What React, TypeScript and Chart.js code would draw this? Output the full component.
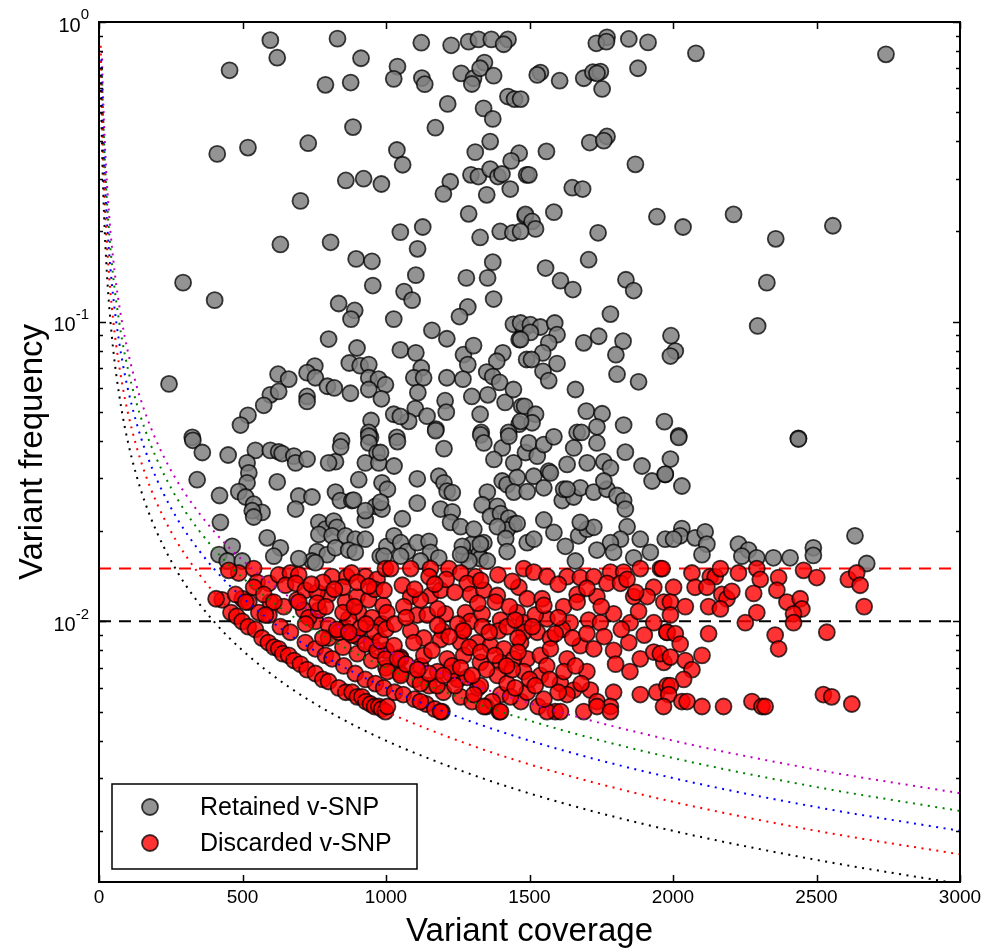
import { useEffect, useRef } from "react";
import { Chart, registerables } from "chart.js";

Chart.register(...registerables);

// ---------- axes / ticks ----------
const xTickValues = [0, 500, 1000, 1500, 2000, 2500, 3000];
const yMajorTicks = [1, 0.1, 0.01];
const yMajorExponents = ["0", "-1", "-2"];
const yMinorTicks = [
  0.002, 0.003, 0.004, 0.005, 0.006, 0.007, 0.008, 0.009,
  0.02, 0.03, 0.04, 0.05, 0.06, 0.07, 0.08, 0.09,
  0.2, 0.3, 0.4, 0.5, 0.6, 0.7, 0.8, 0.9,
];
const xRange = [0, 3000];
const yRange = [0.00135, 1];

const xTitle = "Variant coverage";
const yTitle = "Variant frequency";
const legendLabels = ["Retained v-SNP", "Discarded v-SNP"];

// ---------- threshold lines ----------
const thresholdLevels = [0.015, 0.01];
const thresholdColors = ["#ff0000", "#000000"];

// ---------- minimum-read curves ----------
const curveCoverage = [6, 7, 8, 10, 12, 15, 20, 25, 30, 40, 50, 60, 80, 100, 130, 160, 200, 250, 300, 400, 500, 650, 800, 1000, 1300, 1600, 2000, 2500, 3000];
const curveBlack = [0.667, 0.571, 0.5, 0.4, 0.333, 0.267, 0.2, 0.16, 0.133, 0.1, 0.08, 0.0667, 0.05, 0.04, 0.0308, 0.025, 0.02, 0.016, 0.0133, 0.01, 0.008, 0.00615, 0.005, 0.004, 0.00308, 0.0025, 0.002, 0.0016, 0.00133];
const curveRed = [0.833, 0.714, 0.625, 0.5, 0.417, 0.333, 0.25, 0.2, 0.167, 0.125, 0.1, 0.0833, 0.0625, 0.05, 0.0385, 0.03125, 0.025, 0.02, 0.0167, 0.0125, 0.01, 0.00769, 0.00625, 0.005, 0.00385, 0.003125, 0.0025, 0.002, 0.00167];
const curveBlue = [null, null, 0.75, 0.6, 0.5, 0.4, 0.3, 0.24, 0.2, 0.15, 0.12, 0.1, 0.075, 0.06, 0.0462, 0.0375, 0.03, 0.024, 0.02, 0.015, 0.012, 0.00923, 0.0075, 0.006, 0.00462, 0.00375, 0.003, 0.0024, 0.002];
const curveGreen = [null, null, null, 0.7, 0.583, 0.467, 0.35, 0.28, 0.233, 0.175, 0.14, 0.117, 0.0875, 0.07, 0.0538, 0.04375, 0.035, 0.028, 0.0233, 0.0175, 0.014, 0.0108, 0.00875, 0.007, 0.00538, 0.004375, 0.0035, 0.0028, 0.00233];
const curveMagenta = [null, null, null, 0.8, 0.667, 0.533, 0.4, 0.32, 0.267, 0.2, 0.16, 0.133, 0.1, 0.08, 0.0615, 0.05, 0.04, 0.032, 0.0267, 0.02, 0.016, 0.0123, 0.01, 0.008, 0.00615, 0.005, 0.004, 0.0032, 0.00267];

// ---------- retained v-SNPs [coverage, frequency] ----------
const retainedHigh: [number, number][] = [
  [597,0.87],[621,0.76],[455,0.69],[831,0.88],[913,0.757],[789,0.617],[877,0.628],[1123,0.853],[1227,0.836],[1288,0.86],[1322,0.875],[1367,0.875],[1425,0.875],[1410,0.843],[1040,0.71],[1027,0.646],[1125,0.65],[1135,0.62],[1262,0.674],[1305,0.649],[1299,0.621],[1343,0.732],[1328,0.701],[1375,0.662],[1425,0.564],[1448,0.553],[1215,0.533],[1340,0.515],[1372,0.475],[885,0.446],[1172,0.444],[412,0.363],[519,0.381],[729,0.394],[1038,0.374],[1058,0.334],[1311,0.368],[1363,0.399],[1464,0.365],[1436,0.344],[860,0.296],[922,0.30],[984,0.288],[1224,0.293],[1200,0.267],[1296,0.309],[1322,0.305],[1363,0.323],[1390,0.305],[1404,0.311],[1433,0.277],[1351,0.265],[1490,0.309],[702,0.253],[1288,0.229],[1485,0.225],[632,0.181],[807,0.184],[1050,0.199],[1128,0.207],[1110,0.175],[1328,0.191],[1398,0.200],[1442,0.198],[896,0.162],[951,0.159],[1372,0.158],[293,0.135],[403,0.118],[954,0.132],[1104,0.143],[1280,0.140],[1354,0.140],[1375,0.119],[1285,0.112],[1256,0.104],[835,0.115],[891,0.109],[878,0.102],[1063,0.126],[1091,0.118],[1027,0.102],
  [1770,0.889],[1733,0.849],[1768,0.86],[1846,0.878],[1913,0.855],[2080,0.786],[2742,0.78],[1538,0.678],[1527,0.666],[1605,0.637],[1689,0.649],[1721,0.68],[1747,0.683],[1735,0.674],[1753,0.598],[1878,0.701],[1469,0.553],[1770,0.415],[1710,0.396],[1759,0.402],[1559,0.37],[1869,0.335],[1498,0.309],[1649,0.28],[1685,0.277],[1486,0.228],[1509,0.216],[1521,0.204],[1585,0.232],[1469,0.2],[1739,0.198],[1944,0.224],[2035,0.207],[2211,0.228],[2358,0.189],[2557,0.209],[1706,0.161],[1556,0.151],[1608,0.137],[1651,0.128],[1836,0.138],[1863,0.127],[2327,0.135],[1782,0.106],
];
const retainedMid: [number, number][] = [
  [800,0.0875],[1160,0.0936],[1212,0.0877],[1444,0.098],[1479,0.0946],[1464,0.0872],[899,0.0817],[1050,0.0805],[1104,0.0787],[1270,0.0776],[1305,0.0832],[1285,0.0719],[1407,0.0787],[1386,0.0738],[1490,0.0748],[624,0.0668],[661,0.0643],[752,0.0711],[725,0.0676],[754,0.065],[872,0.0728],[910,0.0713],[940,0.0719],[244,0.062],[940,0.065],[974,0.0643],[998,0.0616],[1123,0.0701],[1097,0.065],[1131,0.065],[1212,0.065],[1268,0.0643],[1351,0.0679],[1372,0.0656],[1396,0.0627],[796,0.0609],[820,0.0601],[876,0.0577],[940,0.0594],[984,0.0553],[1111,0.058],[597,0.057],[626,0.0585],[574,0.0526],[725,0.0563],[725,0.0542],[1299,0.0563],[1355,0.057],[1415,0.0538],[1444,0.0594],[1473,0.0522],[1206,0.0545],[1210,0.0499],[1102,0.0513],[1143,0.0484],[1079,0.0465],[1174,0.0438],[1027,0.0491],[1050,0.0483],[519,0.0487],[493,0.0452],[948,0.0468],[940,0.0427],[946,0.0411],[1328,0.0491],[1332,0.0427],[1464,0.0455],[1427,0.0427],[325,0.0411],[1038,0.0411],[845,0.04],
  [2295,0.0968],[1469,0.099],[1503,0.0977],[1538,0.096],[1503,0.0921],[1588,0.099],[1596,0.0905],[1567,0.085],[1469,0.0872],[1689,0.085],[1741,0.0894],[1826,0.0861],[1993,0.0898],[2008,0.0798],[1991,0.0768],[1801,0.0776],[1546,0.0787],[1507,0.0748],[1596,0.0725],[1547,0.0683],[1567,0.0636],[1805,0.0668],[1880,0.063],[1660,0.0594],[1483,0.0522],[1521,0.0491],[1509,0.046],[1469,0.0465],[1698,0.0503],[1753,0.0493],[1735,0.0446],[1666,0.0427],[1681,0.0427],[1828,0.0452],[1970,0.0464],[2020,0.0416],[2437,0.0408],
];
const retainedLow: [number, number][] = [
  [327,0.0402],[360,0.0366],[450,0.0359],[545,0.0372],[597,0.0372],[626,0.0368],[638,0.0363],[679,0.0356],[685,0.0338],[725,0.0348],[516,0.0338],[522,0.0313],[516,0.029],[342,0.0297],[621,0.0292],[420,0.0263],[487,0.0271],[511,0.026],[539,0.0246],[568,0.0231],[534,0.0234],[539,0.0223],[423,0.0214],[696,0.0262],[742,0.026],[685,0.0237],[824,0.0341],[842,0.0382],[800,0.0338],[824,0.027],[841,0.0253],[881,0.0253],[887,0.0254],[905,0.0297],[928,0.0218],[963,0.0242],[928,0.0234],[940,0.0415],[940,0.0394],[969,0.0365],[928,0.0338],[975,0.0338],[986,0.029],[766,0.0214],[789,0.0203],[818,0.0216],[829,0.0206],[766,0.0195],[812,0.0193],[859,0.0193],[893,0.0188],[928,0.0188],[586,0.019],[632,0.0176],[609,0.0165],[418,0.0167],[464,0.0178],[447,0.0159],[760,0.0171],[795,0.0167],[824,0.0176],[870,0.0173],[893,0.017],[742,0.0159],[696,0.0162],[754,0.0157],[980,0.0165],[1003,0.0178],[986,0.0237],[499,0.0159],
  [1173,0.0433],[1040,0.0398],[1202,0.0377],[981,0.0366],[1028,0.033],[1005,0.0276],[981,0.025],[1109,0.0299],[1184,0.0305],[1202,0.029],[1213,0.0272],[1231,0.0269],[1109,0.0248],[1190,0.0237],[1231,0.0232],[1225,0.0214],[1260,0.0207],[1057,0.022],[1330,0.0419],[1341,0.0394],[1405,0.0379],[1428,0.0415],[1376,0.0347],[1445,0.0338],[1486,0.0366],[1497,0.0394],[1527,0.0356],[1550,0.0389],[1585,0.0413],[1405,0.0294],[1422,0.0286],[1457,0.0302],[1445,0.027],[1492,0.0271],[1515,0.0305],[1550,0.0279],[1567,0.0317],[1573,0.0313],[1353,0.027],[1335,0.0245],[1388,0.0242],[1364,0.0224],[1399,0.0229],[1428,0.0221],[1445,0.0211],[1422,0.0202],[1457,0.0212],[1388,0.0207],[1417,0.0189],[1422,0.0171],[1341,0.0183],[1300,0.0181],[1323,0.0167],[1329,0.0162],[1271,0.0167],[1353,0.0159],[1289,0.0159],[1266,0.0178],[1492,0.0183],[1515,0.0188],[1550,0.0218],[1585,0.0198],[1625,0.0178],[1671,0.0193],[1701,0.0203],[1724,0.0206],[1677,0.0214],[1614,0.0253],[1654,0.026],[1677,0.0279],[1619,0.0276],[1724,0.027],[1770,0.0276],[1805,0.0263],[1828,0.0253],[1834,0.0237],[1840,0.0207],[1817,0.0188],[1782,0.0183],[1735,0.0173],[1793,0.017],[1886,0.0188],[1863,0.0163],[1921,0.017],[1973,0.0188],[1892,0.033],[1927,0.0294],[1973,0.0309],[1834,0.0367],[1735,0.0394],[1654,0.0379],[1701,0.0338],[1759,0.0341],[1782,0.0325],[1759,0.0294],[1631,0.0334],[1631,0.0276],[1660,0.0159],
  [1028,0.0193],[1051,0.0183],[1074,0.0171],[1109,0.0183],[1150,0.0185],[1155,0.017],[1184,0.0163],[1120,0.0159],[1051,0.0165],[993,0.0165],[1260,0.0167],[1306,0.0203],[1329,0.0181],
  [2020,0.0411],[2437,0.0406],[1991,0.0348],[1973,0.031],[2031,0.0283],[2031,0.0204],[2025,0.0193],[2002,0.0188],[2077,0.019],[2112,0.0199],[2118,0.0181],[2101,0.0167],[2228,0.0181],[2263,0.0173],[2240,0.0165],[2292,0.0163],[2350,0.0163],[2408,0.0163],[2489,0.0176],[2489,0.0166],[2634,0.0193],[2675,0.0156],
];

// ---------- discarded v-SNPs [coverage, frequency] ----------
const discardedBands: [number, number][] = [
  [460,0.0107],[480,0.0104],[499,0.0100],[520,0.0096],[545,0.0094],[568,0.0088],[590,0.0085],[610,0.0082],[626,0.0081],[640,0.0078],[661,0.0077],[680,0.0074],[702,0.0072],[725,0.0069],[754,0.0067],[780,0.0064],[800,0.0063],[835,0.006],[860,0.0058],[882,0.0058],[900,0.0056],[916,0.0056],[930,0.0054],[946,0.0053],[960,0.0052],[975,0.0052],[985,0.0051],[998,0.005],
  [499,0.0119],[522,0.0116],[557,0.0107],[592,0.0105],[632,0.0096],[667,0.0092],[719,0.0085],[754,0.0081],[789,0.0077],[812,0.0075],[853,0.0071],[893,0.0067],[928,0.0064],[963,0.0062],[992,0.006],[1030,0.0058],[1060,0.0057],[1100,0.0055],[1140,0.0053],[1170,0.0051],[1195,0.005],
  [800,0.0088],[850,0.0082],[900,0.0078],[950,0.0074],[1000,0.007],[1050,0.0067],[1100,0.0064],[1150,0.0061],[1200,0.0058],[1260,0.0056],[1300,0.0054],[1350,0.0052],[1395,0.005],
  [850,0.0094],[900,0.0089],[950,0.0084],[1000,0.008],[1050,0.0076],[1120,0.0071],[1180,0.0068],[1250,0.0064],[1320,0.006],[1400,0.0057],[1470,0.0054],[1530,0.0052],[1590,0.005],
];
const discardedLeft: [number, number][] = [
  [597,0.0116],[644,0.0112],[690,0.0118],[713,0.0109],[754,0.0100],[800,0.0097],[835,0.0092],[882,0.0090],[928,0.0084],[969,0.0080],[998,0.0075],
  [487,0.0145],[539,0.015],[551,0.0135],[592,0.0134],[626,0.0143],[667,0.0145],[696,0.0143],[650,0.0132],[685,0.0134],[719,0.0127],[539,0.013],[574,0.0123],[609,0.0116],[580,0.0105],[429,0.0118],[476,0.0123],[511,0.0116],[800,0.0123],[859,0.0116],[905,0.0107],[951,0.0103],[986,0.0098],[812,0.0141],[864,0.0141],[928,0.0141],[969,0.0138],[998,0.015],[899,0.0121],[940,0.0118],[696,0.0116],[731,0.0103],[766,0.0109],[829,0.0094],[408,0.0119],[452,0.0148],
  [760,0.0125],[780,0.0135],[850,0.013],[880,0.0145],[960,0.0128],[760,0.0115],[870,0.0102],[910,0.0095],[960,0.0092],[720,0.0098],[780,0.0088],[980,0.0086],
  [740,0.0133],[820,0.0128],[900,0.0135],[940,0.0131],[790,0.0112],[850,0.0107],[890,0.0112],[990,0.0113],[930,0.0098],[870,0.0092],
];
const discardedCentre: [number, number][] = [
  [1016,0.0150],[1086,0.015],[1155,0.015],[1219,0.015],[1260,0.0145],[1312,0.0141],[1480,0.015],[1515,0.0146],[1561,0.0141],[1631,0.0141],[1677,0.014],[1724,0.0141],[1782,0.0146],[1828,0.0146],[1886,0.015],[1956,0.015],
  [993,0.0127],[1057,0.0132],[1086,0.0121],[1150,0.0141],[1155,0.0122],[1190,0.0127],[1283,0.0134],[1294,0.0123],[1341,0.0127],[1388,0.0122],[1463,0.013],[1492,0.0119],[1544,0.0119],[1619,0.0112],[1666,0.0123],[1666,0.0116],[1735,0.0121],[1770,0.0134],[1817,0.0134],[1840,0.0138],[1863,0.0121],[1933,0.013],[1910,0.0121],[1968,0.0116],
  [1003,0.0107],[1062,0.0112],[1109,0.0105],[1144,0.0105],[1207,0.0106],[1277,0.0107],[1294,0.0100],[1335,0.0106],[1381,0.0116],[1399,0.0101],[1457,0.0107],[1480,0.0099],[1561,0.0102],[1642,0.0099],[1706,0.0101],[1747,0.0099],[1793,0.0106],[1851,0.0099],[1933,0.0099],[1979,0.0092],[999,0.0094],[1086,0.0093],[1132,0.0088],[1196,0.0093],[1266,0.0093],[1335,0.0096],[1393,0.0093],[1422,0.0096],[1480,0.0092],[1527,0.0092],[1573,0.0088],[1614,0.0094],
  [1028,0.0083],[1097,0.0085],[1190,0.0087],[1260,0.0085],[1318,0.0085],[1364,0.0083],[1411,0.0081],[1469,0.0085],[1492,0.0075],[1538,0.0077],[1573,0.0081],[1631,0.0075],[1677,0.0083],[1724,0.0081],[1793,0.008],[1846,0.0085],[1886,0.0075],[1933,0.0079],[1968,0.0073],[1051,0.0075],[1132,0.0077],[1213,0.0075],[1271,0.0077],[1329,0.0073],[1399,0.0073],[1445,0.0075],
  [1005,0.0068],[1051,0.0066],[1120,0.0062],[1178,0.0061],[1225,0.0067],[1283,0.0065],[1329,0.0061],[1388,0.0066],[1422,0.0062],[1480,0.0068],[1538,0.0066],[1608,0.0062],[1654,0.0059],[1712,0.0059],[1793,0.0058],[1886,0.0057],[1944,0.0058],[1979,0.0061],[1306,0.0057],[1370,0.0054],[1434,0.0056],[1492,0.0058],[1631,0.0057],[1735,0.0054],[1782,0.0052],
  [1005,0.0052],[1120,0.0054],[1190,0.005],[1341,0.0052],[1399,0.005],[1561,0.005],[1608,0.005],[1689,0.005],[1735,0.0052],[1782,0.005],
  [1030,0.0098],[1120,0.0118],[1180,0.011],[1240,0.0125],[1250,0.0098],[1320,0.0115],[1360,0.0092],[1430,0.0112],[1460,0.0088],[1520,0.0105],[1040,0.0075],[1160,0.008],[1230,0.0071],[1290,0.0082],[1350,0.0069],[1440,0.0069],[1500,0.0064],[1560,0.0071],[1590,0.0091],[1240,0.0061],[1450,0.006],[1150,0.0067],[1270,0.0093],[1210,0.0138],[1390,0.0143],[1440,0.0136],[1600,0.0133],[1700,0.0129],[1750,0.0112],[1880,0.0108],[1900,0.009],[1850,0.0068],[1700,0.0068],[1600,0.0058],[1550,0.0055],
  [1070,0.0072],[1110,0.0069],[1200,0.0066],[1260,0.0070],[1300,0.0066],[1330,0.0079],[1380,0.0077],[1420,0.0071],[1460,0.0079],[1520,0.0061],[1570,0.0064],[1620,0.0068],[1660,0.0071],[1680,0.0062],[1450,0.0101],[1510,0.0096],[1550,0.0113],[1600,0.0103],[1650,0.0088],[1700,0.0091],[1760,0.0089],[1800,0.0072],[1820,0.0094],[1870,0.0125],[1100,0.0128],[1170,0.0133],[1330,0.0137],[1070,0.0103],[1180,0.0097],[1220,0.0089],
];
const discardedRight: [number, number][] = [
  [1962,0.015],[2066,0.0145],[2077,0.013],[2002,0.013],[2130,0.0141],[2147,0.0141],[2165,0.015],[2228,0.0145],[2292,0.015],[2304,0.0138],[2368,0.014],[2362,0.0127],[2455,0.0148],[2501,0.014],[2611,0.0138],[2640,0.0145],[2652,0.0132],[2118,0.013],[2170,0.0123],[2188,0.0119],[2205,0.0126],[2281,0.0124],[2397,0.0116],[2443,0.0119],[2449,0.011],[2420,0.0106],[2420,0.0099],[2666,0.0112],[1991,0.0116],[2043,0.0112],[2124,0.0112],[2165,0.011],[2292,0.0107],[1991,0.0105],[2252,0.0099],[2124,0.0091],[2356,0.009],[2368,0.0081],[2536,0.0092],[1979,0.0092],[2008,0.0091],[2025,0.0084],[1956,0.0078],[1991,0.0076],[2043,0.0074],[2066,0.0069],[2037,0.0064],[2101,0.0077],[1991,0.0061],[1985,0.0057],[2031,0.0054],[2049,0.0054],[2101,0.0052],[2176,0.0052],[2275,0.0054],[2310,0.0052],[2321,0.0052],[2524,0.0057],[2553,0.0056],[2623,0.0053],[1967,0.0052],
];

// ---------- styles ----------
const FONT = '"Liberation Sans", Arial, Helvetica, sans-serif';
const retainedFill = "rgba(128,128,128,0.85)";
const discardedFill = "rgba(255,0,0,0.8)";
const markerEdge = "rgba(0,0,0,0.75)";
const MARKER_R = 8;

const toXY = (pts: [number, number][]) => pts.map(([x, y]) => ({ x, y }));
const curveData = (ys: (number | null)[]) =>
  curveCoverage
    .map((x, i) => ({ x, y: ys[i] }))
    .filter((p) => p.y !== null) as { x: number; y: number }[];

const decorPlugin = {
  id: "decor",
  afterDraw(chart: any) {
    const ctx: CanvasRenderingContext2D = chart.ctx;
    const { left, right, top, bottom } = chart.chartArea;
    const xs = chart.scales.x;
    const ys = chart.scales.y;
    ctx.save();
    ctx.strokeStyle = "#000";
    ctx.fillStyle = "#000";

    // ticks (inward, all four sides)
    ctx.lineWidth = 1.5;
    ctx.beginPath();
    xTickValues.forEach((v) => {
      const px = Math.round(xs.getPixelForValue(v)) + 0.5;
      ctx.moveTo(px, bottom);
      ctx.lineTo(px, bottom - 7);
      ctx.moveTo(px, top);
      ctx.lineTo(px, top + 7);
    });
    yMajorTicks.forEach((v) => {
      const py = Math.round(ys.getPixelForValue(v)) + 0.5;
      ctx.moveTo(left, py);
      ctx.lineTo(left + 7, py);
      ctx.moveTo(right, py);
      ctx.lineTo(right - 7, py);
    });
    yMinorTicks.forEach((v) => {
      const py = Math.round(ys.getPixelForValue(v)) + 0.5;
      ctx.moveTo(left, py);
      ctx.lineTo(left + 4, py);
      ctx.moveTo(right, py);
      ctx.lineTo(right - 4, py);
    });
    ctx.stroke();

    // frame
    ctx.lineWidth = 2;
    ctx.strokeRect(left, top, right - left, bottom - top);

    // x tick labels
    ctx.font = `19px ${FONT}`;
    ctx.textAlign = "center";
    ctx.textBaseline = "middle";
    xTickValues.forEach((v) => {
      ctx.fillText(String(v), xs.getPixelForValue(v), bottom + 16);
    });

    // y tick labels 10^n
    yMajorTicks.forEach((v, i) => {
      const py = ys.getPixelForValue(v);
      const exp = yMajorExponents[i];
      ctx.font = `15px ${FONT}`;
      const ew = ctx.measureText(exp).width;
      const endX = left - 10;
      ctx.textAlign = "left";
      ctx.fillText(exp, endX - ew, py - 7);
      ctx.font = `20px ${FONT}`;
      ctx.textAlign = "right";
      ctx.fillText("10", endX - ew, py + 4);
    });

    // axis titles
    ctx.font = `33px ${FONT}`;
    ctx.textAlign = "center";
    ctx.textBaseline = "middle";
    ctx.fillText(xTitle, (left + right) / 2, bottom + 50);
    ctx.save();
    ctx.translate(33, (top + bottom) / 2);
    ctx.rotate(-Math.PI / 2);
    ctx.fillText(yTitle, 0, 0);
    ctx.restore();

    // legend
    const lx = left + 13, ly = bottom - 98, lw = 305, lh = 85;
    ctx.fillStyle = "#fff";
    ctx.fillRect(lx, ly, lw, lh);
    ctx.lineWidth = 1.5;
    ctx.strokeStyle = "#000";
    ctx.strokeRect(lx, ly, lw, lh);
    const fills = [retainedFill, discardedFill];
    legendLabels.forEach((label, i) => {
      const cy = ly + 23 + i * 36;
      ctx.beginPath();
      ctx.arc(lx + 38, cy, MARKER_R, 0, Math.PI * 2);
      ctx.fillStyle = "#fff";
      ctx.fill();
      ctx.fillStyle = fills[i];
      ctx.fill();
      ctx.lineWidth = 1.8;
      ctx.strokeStyle = markerEdge;
      ctx.stroke();
      ctx.fillStyle = "#000";
      ctx.font = `25px ${FONT}`;
      ctx.textAlign = "left";
      ctx.textBaseline = "middle";
      ctx.fillText(label, lx + 88, cy + 1);
    });
    ctx.restore();
  },
};

export default function App() {
  const ref = useRef<HTMLCanvasElement | null>(null);
  useEffect(() => {
    document.body.style.margin = "0";
    document.body.style.overflow = "hidden";
    const canvas = ref.current;
    if (!canvas) return;
    const curveStyle = (color: string) => ({
      showLine: true,
      borderColor: color,
      borderWidth: 2,
      borderDash: [2, 5.5],
      borderCapStyle: "butt" as const,
      pointRadius: 0,
      cubicInterpolationMode: "monotone" as const,
      fill: false,
      order: 0,
    });
    const datasets: any[] = [
      { label: "k4", data: curveData(curveBlack), ...curveStyle("#000000") },
      { label: "k5", data: curveData(curveRed), ...curveStyle("#ff0000") },
      { label: "k6", data: curveData(curveBlue), ...curveStyle("#0000ff") },
      { label: "k7", data: curveData(curveGreen), ...curveStyle("#008000") },
      { label: "k8", data: curveData(curveMagenta), ...curveStyle("#bf00bf") },
      {
        label: legendLabels[1],
        data: toXY([...discardedBands, ...discardedLeft, ...discardedCentre, ...discardedRight]),
        backgroundColor: discardedFill,
        borderColor: markerEdge,
        borderWidth: 1.8,
        pointRadius: MARKER_R,
        order: 1,
      },
      {
        label: legendLabels[0],
        data: toXY([...retainedHigh, ...retainedMid, ...retainedLow]),
        backgroundColor: retainedFill,
        borderColor: markerEdge,
        borderWidth: 1.8,
        pointRadius: MARKER_R,
        order: 2,
      },
      ...thresholdLevels.map((lvl, i) => ({
        label: "threshold" + i,
        data: [{ x: xRange[0], y: lvl }, { x: xRange[1], y: lvl }],
        showLine: true,
        borderColor: thresholdColors[i],
        borderWidth: 2,
        borderDash: [12, 8],
        pointRadius: 0,
        order: 3,
      })),
    ];
    const chart = new Chart(canvas, {
      type: "scatter",
      data: { datasets },
      options: {
        animation: false,
        responsive: false,
        devicePixelRatio: 1,
        layout: { padding: { left: 99, right: 26, top: 22, bottom: 70 } },
        plugins: { legend: { display: false }, tooltip: { enabled: false } },
        scales: {
          x: { type: "linear", min: xRange[0], max: xRange[1], display: false },
          y: { type: "logarithmic", min: yRange[0], max: yRange[1], display: false },
        },
      },
      plugins: [decorPlugin],
    });
    return () => chart.destroy();
  }, []);
  return <canvas ref={ref} width={986} height={952} style={{ display: "block" }} />;
}
